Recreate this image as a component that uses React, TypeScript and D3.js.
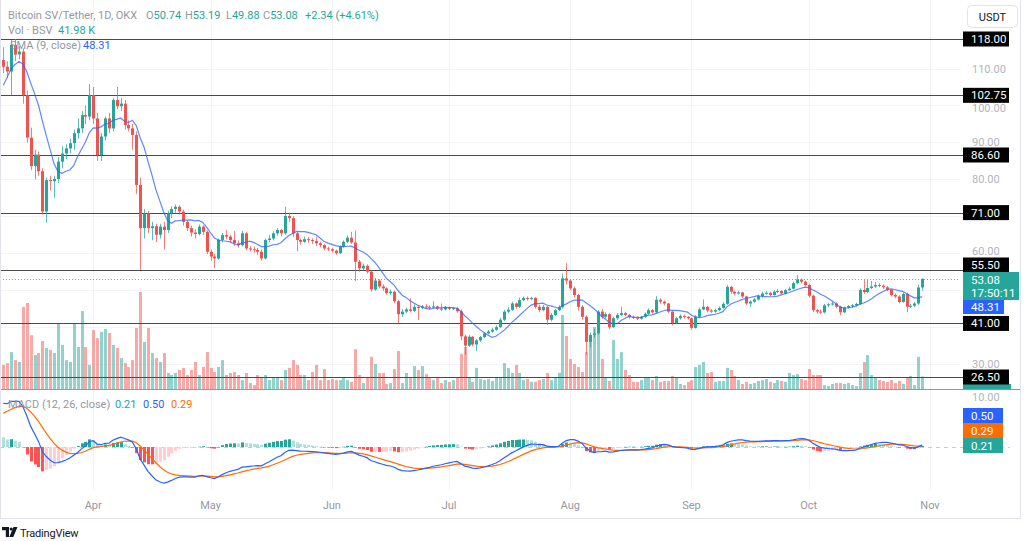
import React, { useMemo } from 'react';
import * as d3 from 'd3';

// ---------- DATA ----------
const DAY = 86400000;
const FIRST_DAY = Date.UTC(2024, 2, 9); // first visible daily candle
const FIRST_OPEN = 112.3;

const CLOSE = [
  110.5, 109.2, 116.4, 113.8, 114.6, 102.8, 91.3, 83.6, 86.7, 82.2,
  71.3, 79.8, 79.5, 80.1, 84.8, 87.0, 88.4, 89.8, 92.5, 93.8,
  97.4, 97.0, 102.8, 96.5, 86.6, 91.6, 96.5, 93.8, 101.5, 99.8,
  100.5, 94.7, 93.8, 92.0, 78.5, 66.8, 70.8, 66.8, 67.3, 65.0,
  67.2, 66.3, 70.8, 72.0, 72.6, 71.3, 68.5, 66.8, 65.6, 65.2,
  67.2, 65.8, 60.4, 59.1, 58.6, 63.6, 64.9, 64.5, 63.6, 62.7,
  62.2, 65.4, 61.3, 61.1, 60.9, 60.4, 58.6, 63.6, 64.0, 65.4,
  66.3, 65.4, 70.1, 69.5, 65.4, 63.6, 63.1, 63.8, 63.6, 63.3,
  62.7, 62.2, 61.3, 61.1, 60.7, 60.0, 61.8, 63.1, 64.2, 62.9,
  57.7, 55.9, 56.6, 55.0, 50.2, 52.6, 51.0, 50.5, 49.2, 49.6,
  47.0, 43.5, 44.2, 44.8, 44.4, 45.5, 45.2, 45.6, 45.5, 45.4,
  45.6, 45.0, 44.8, 45.4, 45.0, 45.1, 44.3, 37.5, 35.0, 37.4,
  35.3, 36.4, 37.3, 38.3, 38.8, 39.3, 40.0, 42.0, 44.2, 44.7,
  46.4, 45.5, 47.3, 47.9, 47.7, 47.9, 45.5, 44.6, 45.5, 42.0,
  43.3, 44.6, 45.4, 53.2, 52.6, 50.5, 48.7, 45.5, 42.8, 36.0,
  37.9, 38.3, 44.2, 42.8, 43.5, 40.0, 42.4, 43.3, 43.8, 43.3,
  42.8, 42.6, 42.3, 42.8, 43.6, 44.6, 44.0, 47.4, 46.9, 46.4,
  44.2, 41.1, 42.4, 43.0, 42.8, 42.4, 39.8, 42.8, 44.8, 45.5,
  44.5, 44.2, 44.6, 45.2, 46.3, 50.9, 49.6, 49.1, 49.4, 48.3,
  46.4, 46.9, 47.5, 48.4, 49.1, 49.3, 48.7, 49.6, 49.8, 49.1,
  50.0, 50.4, 51.9, 52.9, 52.3, 51.4, 48.5, 44.6, 44.2, 44.0,
  45.9, 46.2, 46.4, 45.5, 44.0, 45.3, 45.7, 45.9, 46.3, 50.1,
  49.5, 50.6, 51.0, 51.4, 51.2, 50.8, 50.1, 48.7, 48.3, 46.8,
  49.0, 45.5, 45.8, 46.4, 50.74, 53.08,
];

const HIGH = [
  115.8, 112.0, 117.7, 118.0, 116.0, 115.5, 104.0, 94.0, 88.0, 87.5,
  83.0, 80.5, 81.0, 81.0, 86.0, 89.0, 89.5, 91.0, 93.5, 96.5,
  98.5, 100.0, 105.8, 105.0, 98.0, 92.5, 97.0, 98.0, 102.0, 105.0,
  102.0, 101.5, 96.0, 95.0, 93.0, 80.5, 72.0, 71.5, 68.5, 68.0,
  68.0, 68.5, 71.5, 72.7, 73.2, 73.0, 71.8, 69.0, 67.5, 66.5,
  67.8, 67.6, 66.2, 61.0, 59.8, 64.0, 65.5, 66.3, 65.0, 66.0,
  63.5, 66.0, 65.8, 62.0, 61.8, 61.5, 61.0, 64.0, 65.0, 66.0,
  66.8, 66.6, 72.6, 71.0, 70.0, 65.8, 64.0, 64.5, 64.4, 64.0,
  64.5, 63.2, 62.6, 61.8, 61.5, 61.0, 62.2, 63.5, 64.8, 65.8,
  66.2, 58.2, 57.2, 57.0, 55.3, 53.3, 53.0, 51.6, 50.8, 50.2,
  49.9, 47.4, 44.9, 45.3, 47.8, 46.2, 46.0, 46.0, 46.2, 45.9,
  47.0, 45.8, 46.4, 45.7, 45.6, 45.5, 45.4, 44.8, 38.0, 37.9,
  37.6, 36.8, 37.6, 38.6, 39.2, 39.8, 40.5, 42.5, 44.7, 45.5,
  46.9, 46.7, 48.0, 48.3, 48.3, 48.2, 48.1, 46.0, 46.0, 45.8,
  43.8, 45.0, 46.0, 54.5, 57.3, 53.0, 51.0, 49.0, 46.0, 43.2,
  38.5, 39.5, 44.6, 44.9, 44.0, 43.9, 42.8, 43.8, 45.5, 44.2,
  43.6, 43.1, 42.9, 43.1, 44.0, 45.1, 44.9, 48.4, 47.8, 47.2,
  46.6, 44.4, 42.8, 43.5, 43.4, 43.0, 42.6, 43.2, 45.3, 47.5,
  45.8, 44.9, 45.0, 45.6, 46.8, 51.3, 51.2, 49.9, 49.8, 49.6,
  48.5, 47.3, 47.9, 48.8, 49.6, 49.8, 49.6, 50.0, 50.3, 50.0,
  50.4, 50.9, 52.3, 54.1, 53.2, 52.6, 51.7, 48.8, 45.0, 44.8,
  46.3, 46.6, 46.9, 46.7, 45.8, 45.6, 46.0, 46.3, 46.6, 50.5,
  52.8, 52.8, 52.5, 52.2, 51.9, 51.6, 51.1, 50.4, 49.1, 48.6,
  49.4, 49.3, 46.3, 46.8, 51.5, 53.19,
];

const LOW = [
  108.8, 107.5, 102.8, 112.0, 112.5, 100.5, 90.0, 82.5, 80.0, 81.0,
  70.5, 68.3, 77.0, 75.0, 79.0, 83.0, 85.5, 87.0, 88.0, 91.0,
  92.5, 95.0, 96.0, 95.0, 85.0, 85.0, 90.5, 92.5, 93.0, 99.0,
  98.5, 93.5, 93.0, 88.0, 76.0, 55.5, 64.0, 65.5, 63.5, 63.0,
  64.0, 61.0, 65.5, 69.5, 71.0, 70.5, 67.5, 66.0, 64.5, 64.0,
  64.8, 65.0, 59.8, 58.0, 56.0, 58.2, 63.0, 63.8, 62.8, 62.0,
  61.5, 61.8, 60.8, 60.5, 60.2, 59.5, 58.0, 58.3, 63.0, 63.5,
  64.8, 64.6, 65.0, 68.5, 64.5, 60.5, 62.3, 62.8, 62.9, 62.5,
  62.0, 61.6, 60.8, 60.6, 60.2, 59.6, 59.8, 61.5, 62.8, 62.5,
  52.5, 55.0, 55.4, 54.5, 49.6, 49.8, 50.5, 49.8, 48.8, 48.7,
  46.5, 41.0, 42.8, 43.8, 44.0, 44.1, 41.9, 44.8, 45.0, 44.9,
  45.0, 44.6, 44.3, 44.5, 44.6, 44.7, 43.9, 36.5, 32.5, 34.6,
  34.8, 33.6, 36.0, 37.0, 38.0, 38.5, 39.0, 39.8, 41.6, 43.8,
  44.4, 45.0, 45.2, 47.0, 47.2, 47.3, 45.0, 44.0, 44.3, 40.6,
  41.6, 43.0, 44.3, 45.0, 51.5, 50.0, 48.0, 44.5, 42.0, 32.5,
  34.5, 37.2, 38.0, 42.3, 42.4, 39.5, 39.8, 42.0, 43.0, 42.9,
  42.3, 42.2, 41.9, 42.0, 42.5, 43.4, 43.6, 43.8, 46.3, 45.9,
  43.8, 40.5, 40.8, 42.0, 42.3, 42.0, 39.3, 39.6, 42.5, 44.6,
  44.0, 43.8, 43.9, 44.3, 45.0, 46.0, 49.0, 48.6, 48.8, 47.9,
  46.0, 45.5, 46.6, 47.2, 48.0, 48.8, 48.3, 48.5, 49.2, 48.8,
  48.9, 49.8, 50.2, 51.6, 51.8, 51.0, 48.0, 44.0, 43.6, 43.5,
  43.7, 45.5, 45.8, 45.1, 43.2, 43.8, 45.0, 45.3, 45.6, 46.0,
  49.0, 49.2, 50.3, 50.6, 50.8, 50.3, 49.7, 48.3, 47.8, 46.4,
  46.6, 44.0, 45.2, 45.4, 46.0, 49.88,
];

// volume in thousands of BSV
const VOLUME = [
  81, 87, 124, 97, 91, 276, 289, 181, 114, 121,
  161, 138, 131, 121, 222, 148, 97, 91, 222, 141,
  262, 141, 81, 198, 171, 192, 202, 188, 148, 138,
  104, 87, 74, 97, 205, 326, 158, 205, 121, 104,
  91, 121, 54, 47, 54, 64, 71, 47, 64, 91,
  47, 74, 124, 71, 57, 74, 97, 47, 54, 57,
  47, 30, 54, 20, 13, 47, 40, 47, 30, 37,
  37, 30, 64, 71, 97, 81, 47, 47, 30, 57,
  81, 30, 67, 30, 34, 30, 30, 40, 30, 24,
  134, 47, 20, 40, 108, 84, 54, 54, 17, 20,
  67, 128, 20, 54, 40, 77, 64, 77, 50, 40,
  30, 40, 20, 30, 24, 30, 40, 118, 141, 40,
  24, 71, 34, 30, 34, 27, 37, 40, 87, 71,
  54, 81, 54, 30, 34, 24, 24, 30, 34, 54,
  30, 37, 54, 249, 178, 101, 84, 74, 57, 124,
  168, 208, 222, 101, 40, 27, 165, 101, 124, 64,
  47, 24, 24, 30, 40, 40, 30, 44, 24, 27,
  27, 44, 40, 17, 13, 24, 30, 74, 81, 91,
  54, 57, 24, 27, 27, 71, 64, 44, 30, 17,
  24, 17, 20, 27, 30, 34, 24, 20, 30, 27,
  24, 54, 47, 50, 34, 30, 67, 47, 47, 47,
  13, 10, 17, 20, 20, 17, 20, 13, 10, 54,
  91, 114, 47, 40, 30, 27, 24, 30, 20, 27,
  17, 40, 44, 13, 108, 42,
];

// closes just before the visible window (estimated from where the SMA line starts)
const PRE_CLOSES = [90, 95, 104, 107, 109, 110, 111, 113];
// indicator state at the left edge
const MACD_SEED_EMA12 = 100;
const MACD_SEED_EMA26 = 91.5;
const MACD_SEED_SIGNAL = 6.3;

const LEVELS = [118, 102.75, 86.6, 71, 55.5, 41, 26.5];
const LEVEL_LABELS = ['118.00', '102.75', '86.60', '71.00', '55.50', '41.00', '26.50'];
const GRID_TICKS = [30, 40, 50, 60, 70, 80, 90, 100, 110];
const PRICE_TICK_LABELS = [30, 60, 80, 90, 100, 110]; // the others sit under label boxes
const MONTH_TICKS = ['2024-04-01', '2024-05-01', '2024-06-01', '2024-07-01', '2024-08-01', '2024-09-01', '2024-10-01', '2024-11-01'];
const MACD_TICK = 10;

const TITLE = 'Bitcoin SV/Tether, 1D, OKX';
const OHLC_LABELS = [
  { k: 'O', v: '50.74', x: 146 },
  { k: 'H', v: '53.19', x: 185 },
  { k: 'L', v: '49.88', x: 226 },
  { k: 'C', v: '53.08', x: 263 },
];
const CHANGE_TEXT = '+2.34 (+4.61%)';
const VOL_TEXT = '41.98 K';
const SMA_TEXT = '48.31';
const LAST_PRICE = 53.08;
const COUNTDOWN = '17:50:11';
const MACD_VALUES = { hist: '0.21', macd: '0.50', signal: '0.29' };

// ---------- STYLE ----------
const FONT = "Roboto, 'Liberation Sans', Arial, sans-serif";
const UP = '#26a69a';
const DOWN = '#ef5350';
const UP_VOL = 'rgba(38,166,154,0.5)';
const DOWN_VOL = 'rgba(239,83,80,0.5)';
const BLUE = '#2962ff';
const ORANGE = '#ff6d00';
const GRAY_TEXT = '#9598a1';
const HFS = 11; // header font size

const PANE_R = 960;
const PRICE_BOTTOM = 389;
const MACD_TOP = 390;
const MACD_BOTTOM = 490;
const AXIS_BOTTOM = 518;

// small nudges so partly-covered axis labels clear the neighbouring label boxes
const TICK_NUDGE: Record<number, number> = { 100: 2.8, 60: -2.6 };

export default function App() {
  const d = useMemo(() => {
    const n = CLOSE.length;
    const candles = CLOSE.map((c, i) => {
      const o = i === 0 ? FIRST_OPEN : CLOSE[i - 1];
      return {
        i,
        date: new Date(FIRST_DAY + i * DAY),
        o,
        c,
        h: Math.max(HIGH[i], o, c),
        l: Math.min(LOW[i], o, c),
        v: VOLUME[i],
      };
    });
    const all = [...PRE_CLOSES, ...CLOSE];
    const sma = CLOSE.map((_, i) => d3.mean(all.slice(i, i + 9)) as number);
    let e12 = MACD_SEED_EMA12;
    let e26 = MACD_SEED_EMA26;
    let sig = MACD_SEED_SIGNAL;
    let prevHist = e12 - e26 - sig;
    const macd = CLOSE.map((c) => {
      e12 += ((c - e12) * 2) / 13;
      e26 += ((c - e26) * 2) / 27;
      const m = e12 - e26;
      sig += (m - sig) * 0.2;
      const h = m - sig;
      const color = h >= 0 ? (h >= prevHist ? '#26a69a' : '#b2dfdb') : h < prevHist ? '#ff5252' : '#ffcdd2';
      prevHist = h;
      return { m, s: sig, h, color };
    });
    return { candles, sma, macd, n };
  }, []);

  const x = d3
    .scaleUtc()
    .domain([new Date(FIRST_DAY), new Date(FIRST_DAY + (d.n - 1) * DAY)])
    .range([3.3, 3.3 + (d.n - 1) * 3.91]);
  const yP = d3.scaleLinear().domain([26.5, 118]).range([377, 39]);
  const yV = d3.scaleLinear().domain([0, 326]).range([PRICE_BOTTOM, 292]);
  const yM = d3.scaleLinear().domain([0, 10]).range([447, 397]);

  const smaLine = d3
    .line<number>()
    .x((_, i) => x(d.candles[i].date))
    .y((v) => yP(v))(d.sma) as string;
  const macdLine = d3
    .line<{ m: number }>()
    .x((_, i) => x(d.candles[i].date))
    .y((v) => yM(v.m))(d.macd) as string;
  const sigLine = d3
    .line<{ s: number }>()
    .x((_, i) => x(d.candles[i].date))
    .y((v) => yM(v.s))(d.macd) as string;

  const months = MONTH_TICKS.map((s) => new Date(s + 'T00:00:00Z'));
  const fmt = d3.utcFormat('%b');

  const lastY = yP(LAST_PRICE);
  const priceBoxTop = Math.round(lastY) - 7;
  const priceBoxH = 28;
  const boxX = 963;

  const levelBoxY = (lv: number) => {
    if (lv === 55.5) return priceBoxTop - 14.5; // pushed up by the last-price label
    return yP(lv) - 7.5;
  };

  return (
    <div style={{ position: 'absolute', left: 0, top: 0, width: 1024, height: 541, background: '#fff' }}>
      <svg width={1024} height={541} style={{ display: 'block', fontFamily: FONT }}>
        <defs>
          <clipPath id="pricePane">
            <rect x={0} y={0} width={PANE_R} height={PRICE_BOTTOM} />
          </clipPath>
          <clipPath id="macdPane">
            <rect x={0} y={MACD_TOP} width={PANE_R} height={MACD_BOTTOM - MACD_TOP} />
          </clipPath>
        </defs>
        <rect x={0} y={0} width={1024} height={541} fill="#fff" />

        {/* grid */}
        {months.map((m, i) => (
          <line key={'vg' + i} x1={Math.round(x(m)) + 0.5} x2={Math.round(x(m)) + 0.5} y1={0} y2={MACD_BOTTOM} stroke="#f3f4f7" />
        ))}
        {GRID_TICKS.map((t) => (
          <line key={'hg' + t} x1={0} x2={PANE_R} y1={Math.round(yP(t)) + 0.5} y2={Math.round(yP(t)) + 0.5} stroke="#f3f4f7" />
        ))}

        {/* volume */}
        <g clipPath="url(#pricePane)">
          {d.candles.map((c) => {
            const cx = Math.round(x(c.date));
            const top = yV(c.v);
            return (
              <rect key={'v' + c.i} x={cx - 1} y={top} width={3} height={PRICE_BOTTOM - top} fill={c.c >= c.o ? UP_VOL : DOWN_VOL} />
            );
          })}
        </g>

        {/* horizontal levels */}
        {LEVELS.map((lv) => (
          <line key={'lv' + lv} x1={0} x2={boxX} y1={Math.round(yP(lv)) + 0.5} y2={Math.round(yP(lv)) + 0.5} stroke="#4a4a4a" strokeWidth={1.2} />
        ))}

        {/* last price dotted line */}
        <line x1={0} x2={PANE_R} y1={Math.round(lastY) + 0.5} y2={Math.round(lastY) + 0.5} stroke={UP} strokeDasharray="1 2" opacity={0.8} />

        {/* candles */}
        <g clipPath="url(#pricePane)">
          {d.candles.map((c) => {
            const cx = Math.round(x(c.date));
            const col = c.c >= c.o ? UP : DOWN;
            const bt = yP(Math.max(c.o, c.c));
            const bb = yP(Math.min(c.o, c.c));
            return (
              <g key={'c' + c.i}>
                <rect x={cx} y={yP(c.h)} width={1} height={yP(c.l) - yP(c.h)} fill={col} opacity={0.75} />
                <rect x={cx - 1} y={bt} width={3} height={Math.max(1, bb - bt)} fill={col} />
              </g>
            );
          })}
          <path d={smaLine} fill="none" stroke={BLUE} strokeOpacity={0.75} strokeWidth={1.2} />
        </g>

        {/* pane separator */}
        <line x1={0} x2={1021} y1={389.5} y2={389.5} stroke="#9598a1" strokeWidth={1.2} />

        {/* MACD pane */}
        <line x1={0} x2={PANE_R + 50} y1={yM(0) + 0.5} y2={yM(0) + 0.5} stroke="#c8cad0" strokeDasharray="4 4" />
        <g clipPath="url(#macdPane)">
          {d.macd.map((m, i) => {
            const cx = Math.round(x(d.candles[i].date));
            const y0 = yM(0);
            const y1 = yM(m.h);
            return <rect key={'h' + i} x={cx - 1} y={Math.min(y0, y1)} width={3} height={Math.max(0.5, Math.abs(y1 - y0))} fill={m.color} />;
          })}
          <path d={sigLine} fill="none" stroke={ORANGE} strokeWidth={1.2} />
          <path d={macdLine} fill="none" stroke={BLUE} strokeWidth={1.2} />
        </g>

        {/* frame */}
        <line x1={1020.5} x2={1020.5} y1={0} y2={AXIS_BOTTOM} stroke="#e0e3eb" />
        <line x1={0} x2={1021} y1={AXIS_BOTTOM + 0.5} y2={AXIS_BOTTOM + 0.5} stroke="#e0e3eb" />
        <line x1={0.5} x2={0.5} y1={0} y2={AXIS_BOTTOM} stroke="#e0e3eb" />

        {/* time axis */}
        {months.map((m, i) => (
          <text key={'mt' + i} x={x(m)} y={509} fontSize={11} fill={GRAY_TEXT} textAnchor="middle">
            {fmt(m)}
          </text>
        ))}

        {/* price axis labels */}
        {PRICE_TICK_LABELS.map((t) => (
          <text key={'pt' + t} x={972} y={yP(t) + 4 + (TICK_NUDGE[t] || 0)} fontSize={11} fill="#b2b5be">
            {d3.format('.2f')(t)}
          </text>
        ))}
        <text x={972} y={yM(MACD_TICK) + 4} fontSize={11} fill="#b2b5be">
          {d3.format('.2f')(MACD_TICK)}
        </text>

        {/* volume label peeking at pane bottom */}
        <rect x={boxX} y={384} width={48} height={5} fill={UP} />

        {/* level label boxes */}
        {LEVELS.map((lv, i) => {
          const by = levelBoxY(lv);
          return (
            <g key={'lb' + lv}>
              <rect x={boxX} y={by} width={46} height={15} fill="#000" />
              <text x={971} y={by + 11.5} fontSize={11.5} fill="#fff">
                {LEVEL_LABELS[i]}
              </text>
            </g>
          );
        })}

        {/* last price box */}
        <rect x={boxX} y={priceBoxTop} width={56} height={priceBoxH} fill={UP} />
        <text x={971} y={priceBoxTop + 11.5} fontSize={11.5} fill="#fff">
          {LAST_PRICE.toFixed(2)}
        </text>
        <text x={971} y={priceBoxTop + 25} fontSize={11.5} fill="#fff">
          {COUNTDOWN}
        </text>
        {/* SMA box */}
        <rect x={boxX} y={priceBoxTop + priceBoxH} width={41} height={14} fill={BLUE} />
        <text x={971} y={priceBoxTop + priceBoxH + 11} fontSize={11.5} fill="#fff">
          {SMA_TEXT}
        </text>

        {/* MACD value boxes */}
        <rect x={boxX} y={408} width={40} height={15} fill={BLUE} />
        <text x={971} y={419.5} fontSize={11.5} fill="#fff">{MACD_VALUES.macd}</text>
        <rect x={boxX} y={423} width={40} height={15} fill={ORANGE} />
        <text x={971} y={434.5} fontSize={11.5} fill="#fff">{MACD_VALUES.signal}</text>
        <rect x={boxX} y={438} width={40} height={15} fill={UP} />
        <text x={971} y={449.5} fontSize={11.5} fill="#fff">{MACD_VALUES.hist}</text>

        {/* USDT button */}
        <rect x={967.5} y={5.5} width={50} height={22} rx={4} fill="#fff" stroke="#e0e3eb" />
        <text x={992.5} y={20.5} fontSize={11} fill="#131722" textAnchor="middle">
          USDT
        </text>

        {/* header legend */}
        <text x={8} y={19} fontSize={HFS} fill={GRAY_TEXT}>
          {TITLE}
        </text>
        {OHLC_LABELS.map((o) => (
          <text key={o.k} x={o.x} y={19} fontSize={HFS}>
            <tspan fill={GRAY_TEXT}>{o.k}</tspan>
            <tspan fill={UP}>{o.v}</tspan>
          </text>
        ))}
        <text x={305} y={19} fontSize={HFS} fill={UP}>
          {CHANGE_TEXT}
        </text>
        <text x={8} y={34} fontSize={HFS} fill={GRAY_TEXT}>
          Vol · BSV
        </text>
        <text x={58} y={34} fontSize={HFS} fill={UP}>
          {VOL_TEXT}
        </text>
        <text x={10} y={49} fontSize={HFS} fill={GRAY_TEXT}>
          SMA (9, close)
        </text>
        <text x={83} y={49} fontSize={HFS} fill={BLUE}>
          {SMA_TEXT}
        </text>

        <text x={8} y={408} fontSize={HFS} fill={GRAY_TEXT}>
          MACD (12, 26, close)
        </text>
        <text x={115} y={408} fontSize={HFS} fill={UP}>{MACD_VALUES.hist}</text>
        <text x={143} y={408} fontSize={HFS} fill={BLUE}>{MACD_VALUES.macd}</text>
        <text x={171} y={408} fontSize={HFS} fill={ORANGE}>{MACD_VALUES.signal}</text>

        {/* TradingView logo */}
        <g fill="#131722">
          <path d="M2 527 h7 v10 h-3.2 v-6.8 h-3.8 z" />
          <circle cx={11.2} cy={529} r={1.6} />
          <path d="M13.5 527 h4 l-4.2 10 h-4 z" />
        </g>
        <text x={20} y={537} fontSize={11} fill="#131722" style={{ letterSpacing: '-0.2px' }}>
          TradingView
        </text>
      </svg>
    </div>
  );
}
